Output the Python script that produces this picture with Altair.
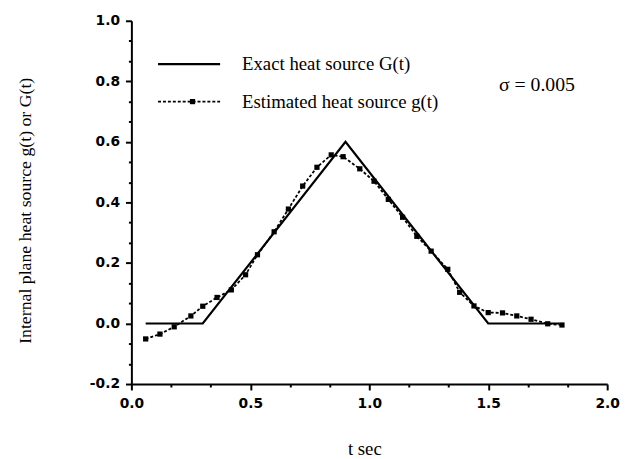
import altair as alt
import pandas as pd

# Exact heat source G(t)
exact_t = [0.06, 0.30, 0.90, 1.50, 1.80]
exact_g = [0.0, 0.0, 0.60, 0.0, 0.0]

# Estimated heat source g(t)
est_t = [0.06, 0.12, 0.18, 0.25, 0.30, 0.36, 0.42, 0.48, 0.53, 0.60,
         0.66, 0.72, 0.78, 0.84, 0.89, 0.96, 1.02, 1.08, 1.14, 1.20,
         1.26, 1.33, 1.38, 1.44, 1.50, 1.56, 1.62, 1.68, 1.75, 1.81]
est_g = [-0.051, -0.035, -0.011, 0.025, 0.057, 0.086, 0.111, 0.161, 0.227, 0.303,
         0.378, 0.454, 0.516, 0.557, 0.551, 0.511, 0.470, 0.410, 0.351, 0.288,
         0.239, 0.179, 0.103, 0.058, 0.036, 0.035, 0.025, 0.014, -0.001, -0.005]

x_ticks = [0.0, 0.1667, 0.3333, 0.5, 0.6667, 0.8333, 1.0, 1.1667, 1.3333,
           1.5, 1.6667, 1.8333, 2.0]
y_ticks = [-0.2, -0.1333, -0.0667, 0.0, 0.0667, 0.1333, 0.2, 0.2667, 0.3333,
           0.4, 0.4667, 0.5333, 0.6, 0.6667, 0.7333, 0.8, 0.8667, 0.9333, 1.0]

legend_labels = ["Exact heat source G(t)", "Estimated heat source g(t)"]
legend_line_t = [0.112, 0.373]
legend_row_g = [0.857, 0.733]
legend_marker_t = [0.257]
legend_text_t = [0.465]
sigma_label = ["σ = 0.005"]
sigma_pos = [1.545, 0.788]

exact_df = pd.DataFrame({"t": exact_t, "g": exact_g})
est_df = pd.DataFrame({"t": est_t, "g": est_g})
leg_exact_df = pd.DataFrame({"t": legend_line_t, "g": [legend_row_g[0]] * 2})
leg_est_df = pd.DataFrame({"t": legend_line_t, "g": [legend_row_g[1]] * 2})
leg_mark_df = pd.DataFrame({"t": legend_marker_t, "g": [legend_row_g[1]]})
leg_text_df = pd.DataFrame({"t": legend_text_t * 2, "g": legend_row_g, "label": legend_labels})
sigma_df = pd.DataFrame({"t": [sigma_pos[0]], "g": [sigma_pos[1]], "label": sigma_label})

x_major = "abs(datum.value*2 - round(datum.value*2)) < 0.01"
y_major = "abs(datum.value*5 - round(datum.value*5)) < 0.01"

x_axis = alt.Axis(
    values=x_ticks,
    labelExpr=f"{x_major} ? format(datum.value, '.1f') : ''",
    tickSize={"condition": {"test": x_major, "value": 6}, "value": 3},
    labelFlush=False, labelOverlap=False, grid=False,
    labelFont="DejaVu Sans", labelFontSize=14, labelFontWeight="bold",
    labelColor="black", labelPadding=7,
    domainColor="black", domainWidth=2, tickColor="black", tickWidth=2,
    title="t   sec", titleFont="Liberation Serif", titleFontSize=19,
    titleFontWeight="normal", titleColor="black",
    titleX=236, titleY=71, titleAlign="center", titleBaseline="alphabetic",
)
y_axis = alt.Axis(
    values=y_ticks,
    labelExpr=f"{y_major} ? (datum.value < -0.001 ? '-' : '') + format(abs(datum.value), '.1f') : ''",
    tickSize={"condition": {"test": y_major, "value": 6}, "value": 3},
    labelOverlap=False, grid=False,
    labelFont="DejaVu Sans", labelFontSize=14, labelFontWeight="bold",
    labelColor="black", labelPadding=6,
    domainColor="black", domainWidth=2, tickColor="black", tickWidth=2,
    title="Internal plane heat source g(t) or G(t)", titleFont="Liberation Serif",
    titleFontSize=18, titleFontWeight="normal", titleColor="black",
    titleX=-107, titleY=192, titleAngle=270, titleAlign="center", titleBaseline="middle",
)

x_enc = alt.X("t:Q", scale=alt.Scale(domain=[0, 2], nice=False, zero=False), axis=x_axis)
y_enc = alt.Y("g:Q", scale=alt.Scale(domain=[-0.2, 1.0], nice=False, zero=False), axis=y_axis)

exact_line = alt.Chart(exact_df).mark_line(color="black", strokeWidth=2.2).encode(x=x_enc, y=y_enc)
est_line = alt.Chart(est_df).mark_line(color="black", strokeWidth=1.8, strokeDash=[3, 2]).encode(x=x_enc, y=y_enc)
est_pts = alt.Chart(est_df).mark_point(shape="square", filled=True, color="black", size=28, opacity=1).encode(x=x_enc, y=y_enc)

leg1 = alt.Chart(leg_exact_df).mark_line(color="black", strokeWidth=2.2).encode(x=x_enc, y=y_enc)
leg2 = alt.Chart(leg_est_df).mark_line(color="black", strokeWidth=1.8, strokeDash=[3, 2]).encode(x=x_enc, y=y_enc)
leg3 = alt.Chart(leg_mark_df).mark_point(shape="square", filled=True, color="black", size=28, opacity=1).encode(x=x_enc, y=y_enc)
leg_txt = alt.Chart(leg_text_df).mark_text(
    align="left", baseline="middle", font="Liberation Serif", fontSize=19, color="black"
).encode(x=x_enc, y=y_enc, text="label:N")
sigma_txt = alt.Chart(sigma_df).mark_text(
    align="left", baseline="middle", font="Liberation Serif", fontSize=20, color="black"
).encode(x=x_enc, y=y_enc, text="label:N")

chart = alt.layer(
    exact_line, est_line, est_pts, leg1, leg2, leg3, leg_txt, sigma_txt
).properties(
    width=482, height=368,
    autosize=alt.AutoSizeParams(type="none"),
    padding={"left": 125, "top": 10, "right": 14, "bottom": 73},
    background="white",
).configure_view(stroke=None)

chart.save("out.html", embed_options={"renderer": "svg", "actions": False})
